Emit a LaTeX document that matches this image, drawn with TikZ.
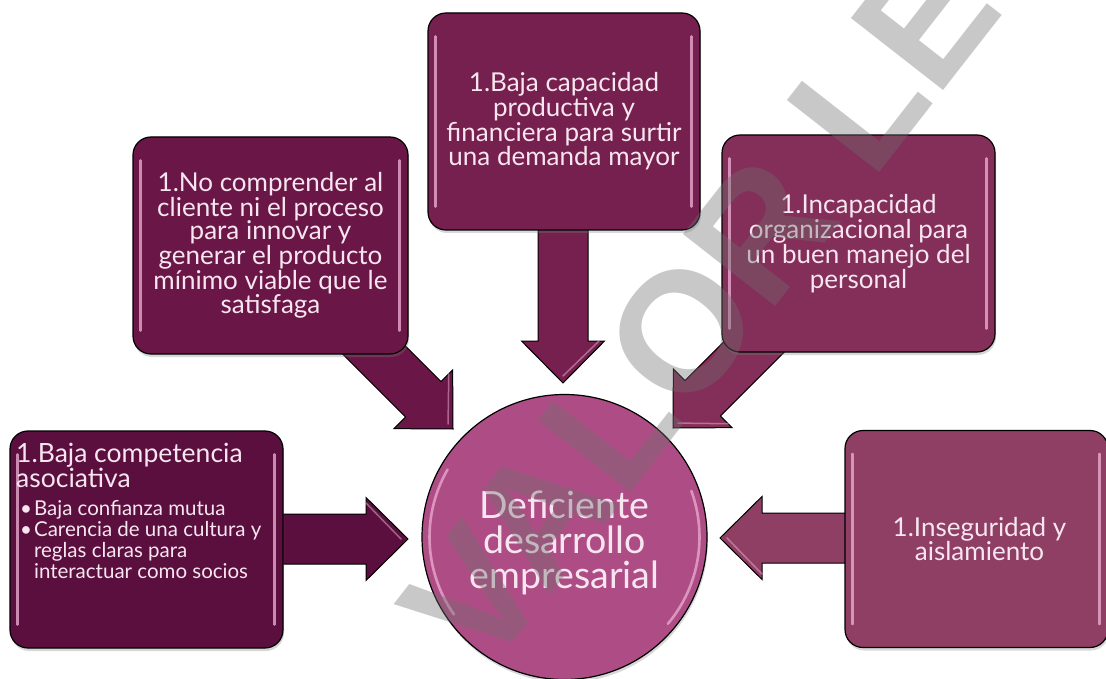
\documentclass[tikz,border=0pt]{standalone}
\usepackage{fontspec}
\setmainfont{Lato}
\newfontfamily\wmfont{Liberation Sans}
\usetikzlibrary{calc,shadows}
\definecolor{cA}{HTML}{5A0F3E}
\definecolor{cB}{HTML}{6A1748}
\definecolor{cC}{HTML}{76204F}
\definecolor{cD}{HTML}{842E5A}
\definecolor{cE}{HTML}{8F3E64}
\definecolor{cCirc}{HTML}{AE4D85}
\definecolor{txt}{HTML}{F7E6EF}
\definecolor{glow}{HTML}{F0B2D6}
\definecolor{wm}{RGB}{111,111,111}
\tikzset{
  boxstyle/.style={draw=black, line width=1.2pt, rounded corners=18pt,
    minimum width=273pt, minimum height=217pt, inner sep=0pt,
    text=txt, align=center, font={\fontsize{26}{23.5}\selectfont},
    drop shadow={opacity=0.3, shadow xshift=1pt, shadow yshift=-3pt}},
  arrowstyle/.style={draw=black, line width=1pt, line join=miter},
  glossline/.style={glow, line width=2.6pt, line cap=round, opacity=0.75},
}
% #1 start coordinate, #2 tip coordinate, #3 colour
\newcommand\mkarrow[3]{%
  \coordinate (#1-b) at ($(#2)!42pt!(#1)$);
  \draw[arrowstyle, fill=#3]
    ($(#1)!25pt!90:(#2)$) -- ($(#1-b)!25pt!90:(#2)$) --
    ($(#1-b)!41.5pt!90:(#2)$) -- (#2) --
    ($(#1-b)!41.5pt!-90:(#2)$) -- ($(#1-b)!25pt!-90:(#2)$) --
    ($(#1)!25pt!-90:(#2)$) -- cycle;
  \draw[glow, line width=1.5pt, opacity=0.5, line cap=round]
    ($(#1-b)!36pt!90:(#2)$) -- ($(#2)!7pt!(#1-b)$);
}
\newcommand\mkgloss[1]{%
  \draw[glossline] ($(#1.north west)+(8,24)$) -- ($(#1.south west)+(8,-24)$);
  \draw[glossline] ($(#1.north east)+(-9,24)$) -- ($(#1.south east)+(-9,-24)$);
}
\begin{document}
\begin{tikzpicture}[x=1pt,y=-1pt]
\useasboundingbox (0,0) rectangle (1106,679);
\fill[white] (0,0) rectangle (1106,679);

% arrow end points
\coordinate (s1) at (270,539);  \coordinate (t1) at (408,539);
\coordinate (s2) at (354,330);  \coordinate (t2) at (453,429);
\coordinate (s3) at (563,220);  \coordinate (t3) at (563,383);
\coordinate (s4) at (771,330);  \coordinate (t4) at (673,428);
\coordinate (s5) at (860,538);  \coordinate (t5) at (720,538);

\mkarrow{s1}{t1}{cA}
\mkarrow{s2}{t2}{cB}
\mkarrow{s3}{t3}{cC}
\mkarrow{s4}{t4}{cD}
\mkarrow{s5}{t5}{cE}

% boxes
\node[boxstyle, fill=cA] (b1) at (146.5,539.5) {};
\node[boxstyle, fill=cB, minimum width=275pt] (b2) at (270.5,245.5)
  {1.No comprender al\\cliente ni el proceso\\para innovar y\\generar el producto\\mínimo viable que le\\satisfaga};
\node[boxstyle, fill=cC, minimum width=272pt] (b3) at (564,121.5)
  {1.Baja capacidad\\productiva y\\financiera para surtir\\una demanda mayor};
\node[boxstyle, fill=cD] (b4) at (858.5,243.5)
  {1.Incapacidad\\organizacional para\\un buen manejo del\\personal};
\node[boxstyle, fill=cE, minimum width=263pt] (b5) at (976.5,539)
  {\hspace*{6pt}1.Inseguridad y\\\hspace*{6pt}aislamiento};

\mkgloss{b1}
\mkgloss{b2}
\mkgloss{b3}
\mkgloss{b4}
\mkgloss{b5}

% left box text
\node[anchor=north west, inner sep=0pt, text=txt, align=left,
      font={\fontsize{26.5}{23}\selectfont}] (t1a) at (16,443)
  {1.Baja competencia\\asociativa};
\node[anchor=north west, inner sep=0pt, text=txt,
      font={\fontsize{20.5}{20.5}\selectfont}] (t1b) at (20,500)
  {\begin{tabular}{@{}l@{\hspace{2pt}}l@{}}
   \textbullet & Baja confianza mutua\\
   \textbullet & Carencia de una cultura y\\
               & reglas claras para\\
               & interactuar como socios
   \end{tabular}};

% centre circle
\node[circle, draw=black, line width=1.2pt, fill=cCirc, minimum size=285pt,
      inner sep=0pt,
      drop shadow={opacity=0.3, shadow xshift=1pt, shadow yshift=-3pt}]
  (c) at (564.5,537) {};
\node[text=txt, align=center, inner sep=0pt,
      font={\fontsize{37.5}{35}\selectfont}]
  (ctext) at ($(c.center)+(0,6)$) {Deficiente\\desarrollo\\empresarial};
% highlights (arc angles are in page orientation, y up)
\draw[glow, line width=2.6pt, opacity=0.7, line cap=round]
  ($(c.center)+(-116.9,-67.5)$) arc[start angle=150, end angle=215, radius=135pt];
\draw[glow, line width=2.6pt, opacity=0.7, line cap=round]
  ($(c.center)+(103.4,86.8)$) arc[start angle=-40, end angle=20, radius=135pt];

% watermark
\node[rotate=52, text=wm, opacity=0.38, inner sep=0pt,
      font={\wmfont\bfseries\fontsize{170}{170}\selectfont}]
  (wmk) at (700,308) {VALOR LE};
\end{tikzpicture}
\end{document}
